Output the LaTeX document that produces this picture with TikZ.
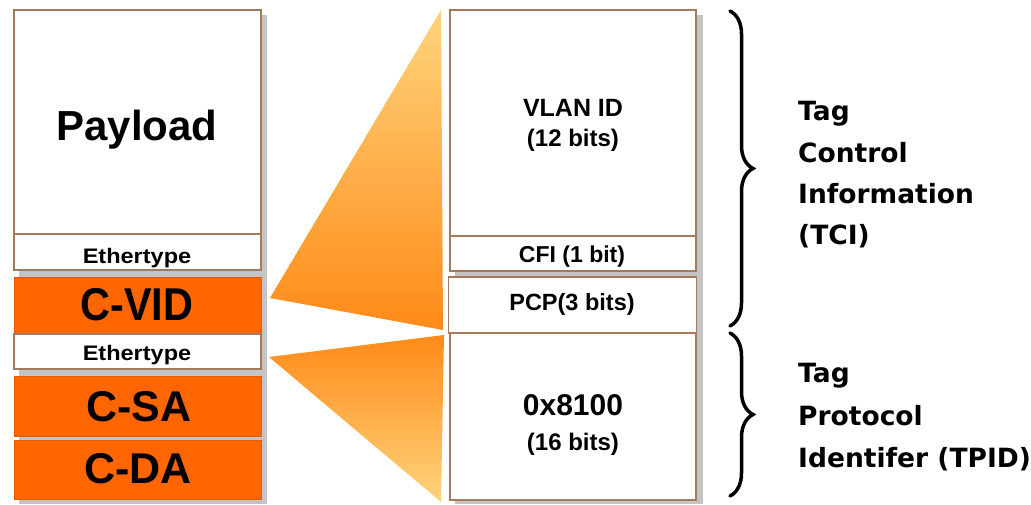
\documentclass[tikz,border=0pt]{standalone}
\usepackage{fontspec}
\setmainfont{Liberation Sans}
\newfontfamily\tahfont{DejaVu Sans}
\usetikzlibrary{decorations.pathreplacing}
\definecolor{brd}{HTML}{A47A5C}
\definecolor{shd}{HTML}{C4C4C4}
\definecolor{org}{HTML}{FF6600}
\definecolor{orgd}{HTML}{E65C00}
\definecolor{tri1}{HTML}{FFD47C}
\definecolor{tri2}{HTML}{FF8A18}
\tikzset{
  wbox/.style={draw=brd, line width=1.5pt, fill=white, inner sep=0, outer sep=0},
  obox/.style={draw=orgd, line width=0.8pt, fill=org, inner sep=0, outer sep=0},
  lbl/.style={anchor=base, inner sep=0, font=\bfseries},
  rlbl/.style={anchor=base west, inner sep=0, font=\tahfont\bfseries\fontsize{26.5}{30}\selectfont},
  brc/.style={decorate, decoration={brace, amplitude=23pt}, line width=3.5pt, line cap=round},
}
\begin{document}
\begin{tikzpicture}[x=1pt, y=-1pt]
\useasboundingbox (0,0) rectangle (1031,504);
% shadows
\fill[shd] (19,15) rectangle (267,504);
\fill[shd] (455,15) rectangle (703,504);
% left column
\node[wbox, minimum width=247pt, minimum height=224pt] (pay) at (137.5,122) {};
\node[wbox, minimum width=247pt, minimum height=36pt] (eth1) at (137.5,252) {};
\node[obox, minimum width=247pt, minimum height=56pt] (cvid) at (137.5,305) {};
\node[wbox, minimum width=247pt, minimum height=35pt] (eth2) at (137.5,351.5) {};
\node[obox, minimum width=247pt, minimum height=60pt] (csa) at (137.5,406) {};
\node[obox, minimum width=247pt, minimum height=59pt] (cda) at (137.5,469.5) {};
% right column
\node[wbox, minimum width=246pt, minimum height=226pt] (vlan) at (573,123) {};
\node[wbox, minimum width=246pt, minimum height=35pt] (cfi) at (573,253.5) {};
\node[wbox, minimum width=248pt, minimum height=56pt] (pcp) at (572.5,305) {};
\node[wbox, minimum width=246pt, minimum height=167pt] (tpid) at (573,416.5) {};
% texts left
\node[lbl, font=\bfseries\fontsize{42}{48}\selectfont] (tpay) at (137,140) {Payload};
\node[lbl, font=\bfseries\fontsize{21}{24}\selectfont] (teth1) at (137,263) {\scalebox{1.12}[1]{Ethertype}};
\node[lbl, font=\bfseries\fontsize{46}{50}\selectfont] (tcvid) at (137,320) {\scalebox{0.9}[1]{C-VID}};
\node[lbl, font=\bfseries\fontsize{21}{24}\selectfont] (teth2) at (137,360) {\scalebox{1.12}[1]{Ethertype}};
\node[lbl, font=\bfseries\fontsize{43}{48}\selectfont] (tcsa) at (139,421.5) {C-SA};
\node[lbl, font=\bfseries\fontsize{43}{48}\selectfont] (tcda) at (138,483) {C-DA};
% texts right column
\node[lbl, font=\bfseries\fontsize{25}{28}\selectfont] (tvlan) at (573,116.5) {VLAN ID};
\node[lbl, font=\bfseries\fontsize{24}{28}\selectfont] (tv12) at (573,146.5) {(12 bits)};
\node[lbl, font=\bfseries\fontsize{23}{26}\selectfont] (tcfi) at (572,262.5) {CFI (1 bit)};
\node[lbl, font=\bfseries\fontsize{23.5}{26}\selectfont] (tpcp) at (572,310.5) {PCP(3 bits)};
\node[lbl, font=\bfseries\fontsize{30}{34}\selectfont] (t8100) at (573,415) {0x8100};
\node[lbl, font=\bfseries\fontsize{24}{28}\selectfont] (t16) at (573,450.5) {(16 bits)};
% triangles
\coordinate (a1) at (270,298);
\coordinate (b1) at (441,10);
\coordinate (c1) at (443,330);
\coordinate (a2) at (269,357);
\coordinate (b2) at (444,335);
\coordinate (c2) at (441,502);
\shade[top color=tri1, bottom color=tri2] (a1) -- (b1) -- (c1) -- cycle;
\shade[top color=tri2, bottom color=tri1] (a2) -- (b2) -- (c2) -- cycle;
% braces
\coordinate (br1t) at (730,11);
\coordinate (br1b) at (730,326);
\coordinate (br2t) at (730,333);
\coordinate (br2b) at (730,496);
\draw[brc] (br1t) -- (br1b);
\draw[brc] (br2t) -- (br2b);
% right labels
\node[rlbl] (l1) at (798,120) {Tag};
\node[rlbl] (l2) at (798,162) {Control};
\node[rlbl] (l3) at (798,203.5) {Information};
\node[rlbl] (l4) at (798,244) {(TCI)};
\node[rlbl] (l5) at (798,382) {Tag};
\node[rlbl] (l6) at (798,425) {Protocol};
\node[rlbl] (l7) at (798,467) {Identifer (TPID)};
\end{tikzpicture}
\end{document}
